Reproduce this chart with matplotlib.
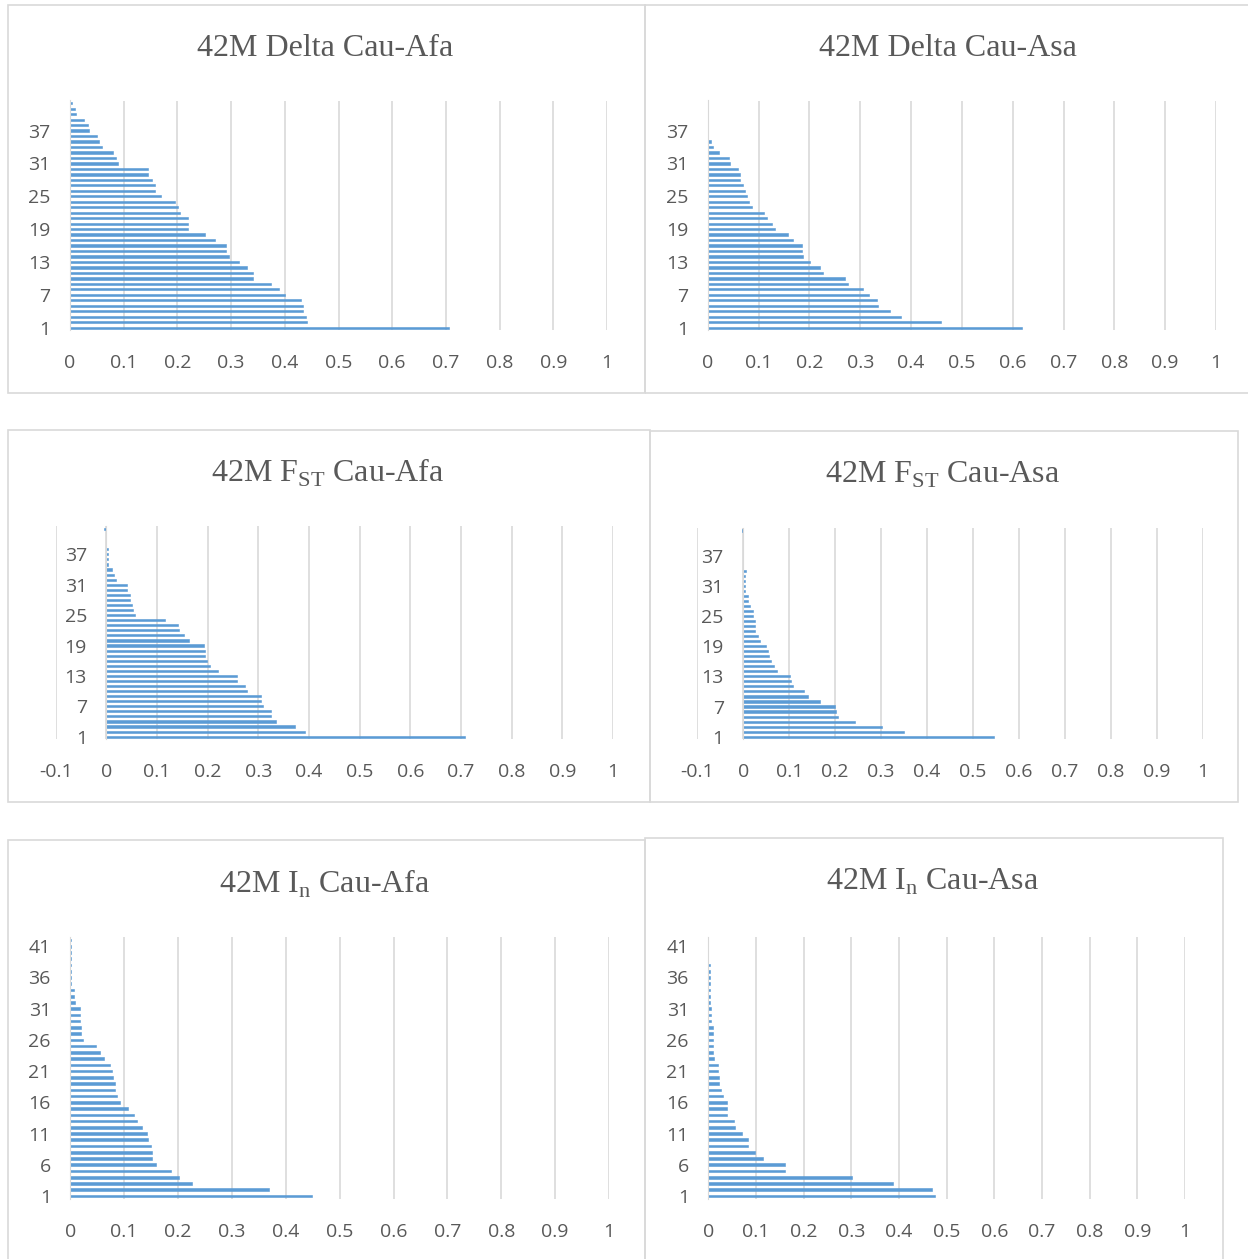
import numpy as np
import matplotlib.pyplot as plt
from matplotlib.patches import Rectangle

plt.rcParams['mathtext.fontset'] = 'custom'
plt.rcParams['mathtext.rm'] = 'Liberation Serif'

W, H = 1248, 1259

cats = np.arange(1, 43)

delta_afa = [0.706, 0.442, 0.439, 0.433, 0.433, 0.430, 0.400, 0.389, 0.374, 0.341,
             0.341, 0.330, 0.315, 0.297, 0.291, 0.291, 0.270, 0.252, 0.220, 0.220,
             0.220, 0.205, 0.202, 0.196, 0.169, 0.158, 0.158, 0.152, 0.146, 0.146,
             0.089, 0.086, 0.080, 0.059, 0.054, 0.051, 0.036, 0.033, 0.027, 0.012,
             0.009, 0.003]
delta_asa = [0.618, 0.458, 0.380, 0.358, 0.336, 0.333, 0.317, 0.305, 0.276, 0.270,
             0.226, 0.220, 0.201, 0.188, 0.186, 0.186, 0.167, 0.157, 0.132, 0.126,
             0.116, 0.110, 0.088, 0.082, 0.078, 0.073, 0.069, 0.063, 0.063, 0.060,
             0.044, 0.041, 0.022, 0.010, 0.007, 0, 0, 0, 0, 0,
             0, 0]
fst_afa = [0.708, 0.393, 0.372, 0.334, 0.324, 0.324, 0.309, 0.305, 0.305, 0.277,
           0.274, 0.258, 0.258, 0.220, 0.204, 0.198, 0.195, 0.195, 0.192, 0.163,
           0.154, 0.144, 0.141, 0.116, 0.056, 0.053, 0.050, 0.047, 0.047, 0.041,
           0.041, 0.019, 0.016, 0.012, 0.003, 0.003, 0.003, 0.003, 0, 0,
           0, -0.004]
fst_asa = [0.546, 0.349, 0.303, 0.244, 0.206, 0.202, 0.199, 0.167, 0.140, 0.133,
           0.109, 0.105, 0.101, 0.074, 0.067, 0.060, 0.057, 0.053, 0.049, 0.036,
           0.032, 0.025, 0.025, 0.025, 0.022, 0.022, 0.014, 0.011, 0.011, 0.004,
           0.004, 0.004, 0.004, 0.005, 0, 0, 0, 0, 0, 0,
           0, -0.003]
in_afa = [0.448, 0.368, 0.226, 0.202, 0.187, 0.160, 0.152, 0.152, 0.149, 0.145,
          0.142, 0.134, 0.124, 0.119, 0.107, 0.092, 0.086, 0.083, 0.083, 0.080,
          0.077, 0.074, 0.062, 0.056, 0.048, 0.024, 0.020, 0.020, 0.018, 0.018,
          0.018, 0.009, 0.006, 0.006, 0.002, 0.002, 0.002, 0.002, 0.002, 0.002,
          0.002, 0.002]
in_asa = [0.476, 0.469, 0.388, 0.301, 0.161, 0.161, 0.114, 0.097, 0.084, 0.084,
          0.070, 0.057, 0.053, 0.040, 0.040, 0.040, 0.030, 0.027, 0.023, 0.023,
          0.020, 0.020, 0.013, 0.010, 0.010, 0.010, 0.010, 0.010, 0.006, 0.006,
          0.006, 0.003, 0.003, 0.003, 0.003, 0.003, 0.003, 0.003, 0, 0,
          0, 0]

titles = ["42M Delta Cau-Afa", "42M Delta Cau-Asa",
          r"42M F$_{\mathrm{ST}}$ Cau-Afa", r"42M F$_{\mathrm{ST}}$ Cau-Asa",
          r"42M I$_{\mathrm{n}}$ Cau-Afa", r"42M I$_{\mathrm{n}}$ Cau-Asa"]

ticks6 = [1, 7, 13, 19, 25, 31, 37]
ticks5 = [1, 6, 11, 16, 21, 26, 31, 36, 41]

# frames (left, top, right, bottom) in pixels
frames = [(7.5, 5, 645, 393), (645, 5, 1252, 393),
          (7.5, 430, 650, 802), (650, 431, 1238, 802),
          (7.5, 840, 645, 1263), (645, 838, 1223, 1263)]
# axes boxes (left, top, right, bottom) in pixels, title centre (x, y)
boxes = [(70, 100.5, 607, 330.4), (707.7, 100.5, 1216, 330.4),
         (55.7, 526.5, 613, 739.2), (697.3, 528, 1202.7, 739.2),
         (70.3, 936.9, 609, 1199.1), (708.3, 936.9, 1185, 1199.1)]
title_pos = [(325, 48), (948, 48), (328, 473), (943, 475), (325, 884), (933, 882)]

panels = [
    (delta_afa, 0, ticks6), (delta_asa, 0, ticks6),
    (fst_afa, -0.1, ticks6), (fst_asa, -0.1, ticks6),
    (in_afa, 0, ticks5), (in_asa, 0, ticks5),
]

fig = plt.figure(figsize=(W / 100, H / 100), dpi=100)
grey = '#595959'
bar_col = '#5B9BD5'

for i, (vals, xmin, yt) in enumerate(panels):
    l, t, r, b = frames[i]
    fig.add_artist(Rectangle((l / W, 1 - b / H), (r - l) / W, (b - t) / H,
                             transform=fig.transFigure, fill=False,
                             edgecolor='#D9D9D9', linewidth=1.2))

    l, t, r, b = boxes[i]
    ax = fig.add_axes([l / W, 1 - b / H, (r - l) / W, (b - t) / H])
    ax.barh(cats, vals, height=0.42, color=bar_col,
            edgecolor=bar_col, linewidth=0.4)
    ax.set_xlim(xmin, 1)
    ax.set_ylim(0.5, 42.5)
    xt = np.round(np.arange(xmin, 1.0001, 0.1), 1)
    ax.set_xticks(xt)
    ax.set_xticklabels([f"{v:g}" for v in xt])
    ax.set_yticks(yt)
    for s in ['top', 'right', 'bottom']:
        ax.spines[s].set_visible(False)
    ax.spines['left'].set_position(('data', 0))
    ax.spines['left'].set_color('#D9D9D9')
    ax.grid(axis='x', color='#D9D9D9', linewidth=1.2)
    ax.set_axisbelow(True)
    ax.tick_params(length=0, labelsize=14, labelcolor=grey)
    ax.tick_params(axis='x', pad=17)
    ax.tick_params(axis='y', pad=14)
    for lab in ax.get_xticklabels() + ax.get_yticklabels():
        lab.set_family('Open Sans')

    tx, ty = title_pos[i]
    fig.text(tx / W, 1 - ty / H, titles[i], ha='center', va='center',
             family='Liberation Serif', fontsize=23, color=grey)

fig.savefig('out.png', dpi=100)
